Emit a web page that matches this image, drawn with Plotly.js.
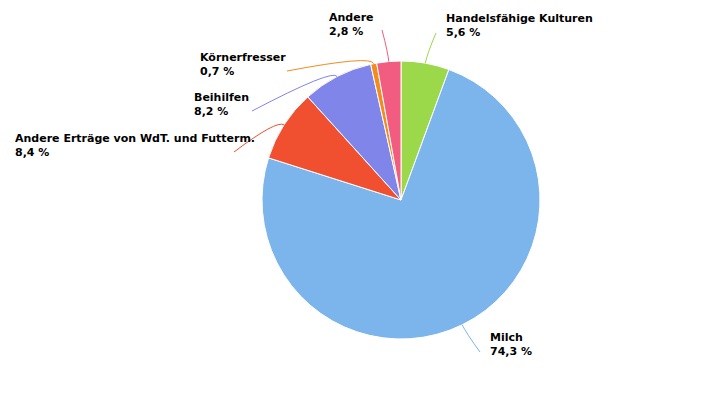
<!DOCTYPE html>
<html>
<head>
<meta charset="utf-8">
<script src="https://cdn.plot.ly/plotly-3.0.1.min.js"></script>
<style>html,body{margin:0;padding:0;background:#fff;}#chart{width:725px;height:400px;}</style>
</head>
<body>
<div id="chart"></div>
<script>
const categories = ["Handelsfähige Kulturen", "Milch", "Andere Erträge von WdT. und Futterm.", "Beihilfen", "Körnerfresser", "Andere"];
const values = [5.6, 74.3, 8.4, 8.2, 0.7, 2.8];
const colors = ["#9bd84a", "#7cb5ec", "#f0502f", "#8085e9", "#f28c1e", "#f15c80"];

const W = 725, H = 400;
const cx = 401, cy = 200, R = 139;
// label placement (left x, centre y of block) and connector end points, per slice
const labelPos = [
  {x: 446, y: 26, ex: 436, ey: 33},
  {x: 490, y: 344, ex: 480, ey: 352},
  {x: 15, y: 145, ex: 234, ey: 152},
  {x: 194, y: 105, ex: 252, ey: 111},
  {x: 200, y: 64, ex: 287, ey: 71},
  {x: 329, y: 24, ex: 382, ey: 30}
];

const total = values.reduce((a, b) => a + b, 0);
const annotations = [];
const shapes = [];
let cum = 0;
const px = x => x / W, py = y => 1 - y / H;
values.forEach((v, i) => {
  const mid = (cum + v / 2) / total * 2 * Math.PI;
  cum += v;
  const sx = Math.sin(mid), sy = -Math.cos(mid);
  const e = [cx + R * sx, cy + R * sy];
  const k = [cx + (R + 9) * sx, cy + (R + 9) * sy];
  const L = labelPos[i];
  shapes.push({
    type: 'path', xref: 'paper', yref: 'paper',
    path: `M ${px(e[0])} ${py(e[1])} Q ${px(k[0])} ${py(k[1])} ${px(L.ex)} ${py(L.ey)}`,
    line: {color: colors[i], width: 1}
  });
  annotations.push({
    xref: 'paper', yref: 'paper', x: px(L.x - 2), y: py(L.y),
    xanchor: 'left', yanchor: 'middle', align: 'left', showarrow: false,
    text: `<b>${categories[i]}</b><br><b>${v.toFixed(1).replace('.', ',')} %</b>`,
    font: {family: 'DejaVu Sans, sans-serif', size: 11, color: '#000'}
  });
});

const trace = {
  type: 'pie',
  labels: categories,
  values: values,
  sort: false,
  direction: 'clockwise',
  rotation: 0,
  marker: {colors: colors, line: {color: '#ffffff', width: 1}},
  textinfo: 'none',
  hoverinfo: 'none',
  showlegend: false,
  domain: {x: [(cx - R) / W, (cx + R) / W], y: [(H - cy - R) / H, (H - cy + R) / H]}
};

const layout = {
  width: W, height: H,
  margin: {l: 0, r: 0, t: 0, b: 0},
  paper_bgcolor: '#fff',
  showlegend: false,
  annotations: annotations,
  shapes: shapes
};

Plotly.newPlot('chart', [trace], layout, {displayModeBar: false, staticPlot: true});
</script>
</body>
</html>
